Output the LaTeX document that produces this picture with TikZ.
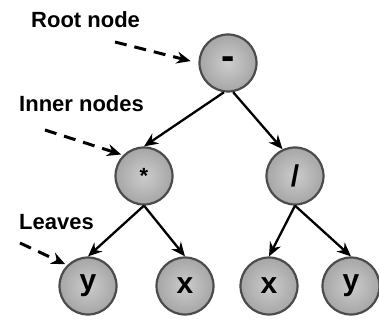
\documentclass[tikz,border=0pt]{standalone}
\usepackage{fontspec}
\setmainfont{Liberation Sans}
\usetikzlibrary{arrows.meta,shadings}
\begin{document}
\begin{tikzpicture}[x=1pt,y=-1pt,
  treenode/.style={circle,minimum size=57pt,inner sep=0pt,draw=black!70,line width=2.2pt,
    inner color=gray!40,outer color=gray!70,font=\fontsize{30}{32}\selectfont\bfseries},
  lbl/.style={anchor=west,inner sep=0pt,font=\fontsize{22}{24}\selectfont\bfseries},
  edge/.style={line width=2.3pt,-{Stealth[length=14pt,width=12pt]}},
  pointer/.style={line width=3pt,dash pattern=on 12pt off 8pt,-{Stealth[length=14pt,width=12pt]}}]
\useasboundingbox (0,0) rectangle (379,320);
\node[treenode] (root) at (228,63) {\fontsize{40}{40}\selectfont -};
\node[treenode] (mul) at (144,176) {\fontsize{22}{24}\selectfont *};
\node[treenode] (div) at (295,176) {/};
\node[treenode] (l1) at (88,286) {y};
\node[treenode] (l2) at (185,286) {x};
\node[treenode] (l3) at (269,286) {x};
\node[treenode] (l4) at (351,286) {y};
\node[lbl] (troot) at (31,20) {Root node};
\node[lbl] (tinner) at (19,104) {Inner nodes};
\node[lbl] (tleaves) at (19,222) {Leaves};
\coordinate (s1) at (115,42);
\coordinate (s2) at (45,130);
\coordinate (s3) at (20,243);
\draw[pointer,shorten >=8pt] (s1) -- (root.west);
\draw[pointer,shorten >=2pt] (s2) -- (mul.north west);
\draw[pointer,shorten >=2pt] (s3) -- (l1.north west);
\draw[edge] (root.-98) -- (mul.north);
\draw[edge] (root.-80) -- (div.115);
\draw[edge] (mul.south) -- (l1.north);
\draw[edge] (mul.south) -- (l2.north);
\draw[edge] (div.south) -- (l3.north);
\draw[edge] (div.south) -- (l4.north);
\end{tikzpicture}
\end{document}
